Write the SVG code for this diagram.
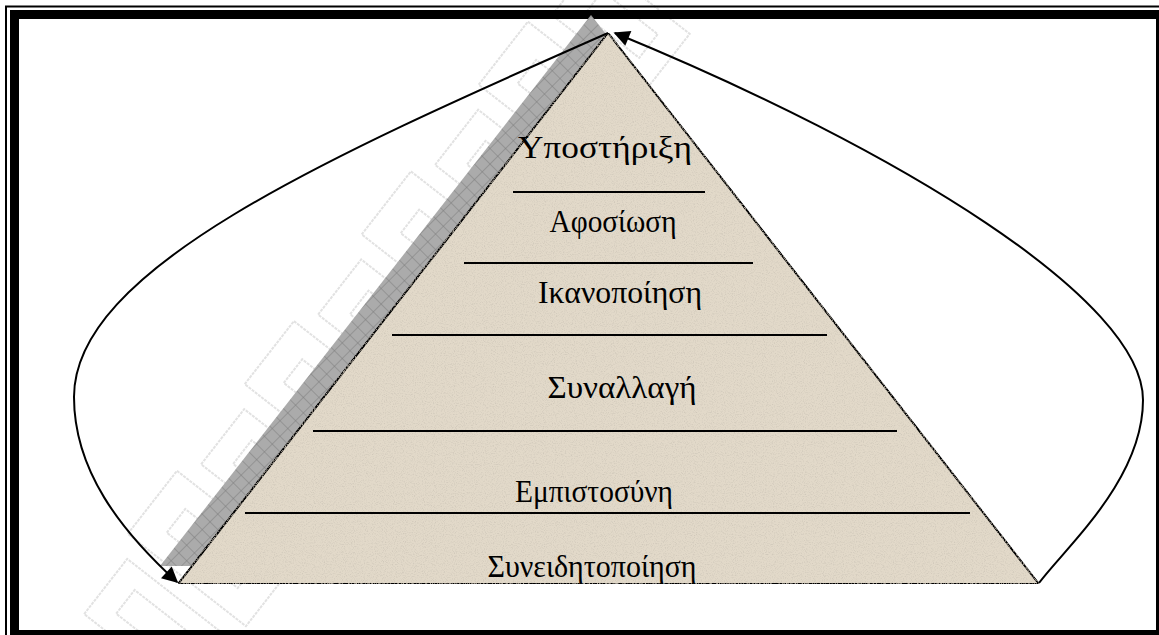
<svg xmlns="http://www.w3.org/2000/svg" width="1159" height="635" viewBox="0 0 1159 635">
<style>
.lbl{font-family:"Liberation Serif","Times New Roman",serif;font-size:31px;fill:#000;text-anchor:middle}
.sep{stroke:#000;stroke-width:2}
.conn{fill:none;stroke:#000;stroke-width:2}
.wm{fill:none;stroke:#e2e2e2;stroke-width:2;stroke-dasharray:3 1}
</style>
<defs>
<pattern id="hatch" width="11" height="11" patternUnits="userSpaceOnUse" patternTransform="rotate(45)">
<rect width="11" height="11" fill="#ababab"/>
<path d="M0 0H11M0 0V11" stroke="#7c7c7c" stroke-width="1"/>
</pattern>
<filter id="grain" x="0" y="0" width="100%" height="100%">
<feTurbulence type="fractalNoise" baseFrequency="0.9" numOctaves="2" seed="3" result="n"/>
<feColorMatrix in="n" type="matrix" values="0 0 0 0 0.6  0 0 0 0 0.55  0 0 0 0 0.47  0 0 0 -2 1.05" result="s"/>
<feComposite in="s" in2="SourceGraphic" operator="in" result="c"/>
<feMerge><feMergeNode in="SourceGraphic"/><feMergeNode in="c"/></feMerge>
</filter>
<marker id="ah" viewBox="0 0 10 10" refX="9" refY="5" markerWidth="8.5" markerHeight="8" markerUnits="strokeWidth" orient="auto">
<path d="M0 0L10 5L0 10z" fill="#000"/>
</marker>
</defs>
<rect width="1159" height="635" fill="#fff"/>
<g id="watermark" transform="translate(390,320) rotate(-52)">
<rect class="wm" x="-420" y="-60" width="70" height="120"/>
<rect class="wm" x="-400" y="-35" width="30" height="70"/>
<rect class="wm" x="-330" y="-75" width="80" height="150"/>
<rect class="wm" x="-305" y="-45" width="30" height="90"/>
<rect class="wm" x="-230" y="-60" width="70" height="120"/>
<rect class="wm" x="-210" y="-35" width="30" height="70"/>
<rect class="wm" x="-140" y="-75" width="80" height="150"/>
<rect class="wm" x="-115" y="-45" width="30" height="90"/>
<rect class="wm" x="-40" y="-60" width="70" height="120"/>
<rect class="wm" x="-20" y="-35" width="30" height="70"/>
<rect class="wm" x="50" y="-75" width="80" height="150"/>
<rect class="wm" x="75" y="-45" width="30" height="90"/>
<rect class="wm" x="150" y="-60" width="70" height="120"/>
<rect class="wm" x="170" y="-35" width="30" height="70"/>
<rect class="wm" x="240" y="-75" width="80" height="150"/>
<rect class="wm" x="265" y="-45" width="30" height="90"/>
<rect class="wm" x="340" y="-60" width="70" height="120"/>
<rect class="wm" x="360" y="-35" width="30" height="70"/>
</g>
<g id="frame">
<rect x="6" y="6.5" width="2000" height="2000" fill="none" stroke="#000" stroke-width="2"/>
<rect x="14.5" y="14.5" width="1146" height="620" fill="none" stroke="#000" stroke-width="9"/>
</g>
<g id="pyramid">
<polygon points="591,15 1022,566 160,566" fill="url(#hatch)"/>
<polygon points="608,33 1039,584 178,584" fill="#e2d9c9" filter="url(#grain)" stroke="#000" stroke-width="2"/>
<line class="sep" x1="513" y1="192" x2="705" y2="192"/>
<line class="sep" x1="464" y1="263" x2="753" y2="263"/>
<line class="sep" x1="392" y1="335" x2="827" y2="335"/>
<line class="sep" x1="313" y1="431" x2="897" y2="431"/>
<line class="sep" x1="245" y1="513" x2="970" y2="513"/>
</g>
<g id="n1"><text class="lbl" x="605" y="158" textLength="174" lengthAdjust="spacingAndGlyphs">Υποστήριξη</text></g>
<g id="n2"><text class="lbl" x="613" y="232" textLength="127" lengthAdjust="spacingAndGlyphs">Αφοσίωση</text></g>
<g id="n3"><text class="lbl" x="620" y="303" textLength="164" lengthAdjust="spacingAndGlyphs">Ικανοποίηση</text></g>
<g id="n4"><text class="lbl" x="622" y="398" textLength="149" lengthAdjust="spacingAndGlyphs">Συναλλαγή</text></g>
<g id="n5"><text class="lbl" x="594" y="502" textLength="158" lengthAdjust="spacingAndGlyphs">Εμπιστοσύνη</text></g>
<g id="n6"><text class="lbl" x="592" y="577" textLength="209" lengthAdjust="spacingAndGlyphs">Συνειδητοποίηση</text></g>
<g id="connectors">
<path class="conn" d="M608 33C320 160 74 270 74 397C74 470 120 530 177 582" marker-end="url(#ah)"/>
<path class="conn" d="M1039 583C1065 548 1143 480 1143 400C1143 300 900 150 615 33" marker-end="url(#ah)"/>
</g>
</svg>
